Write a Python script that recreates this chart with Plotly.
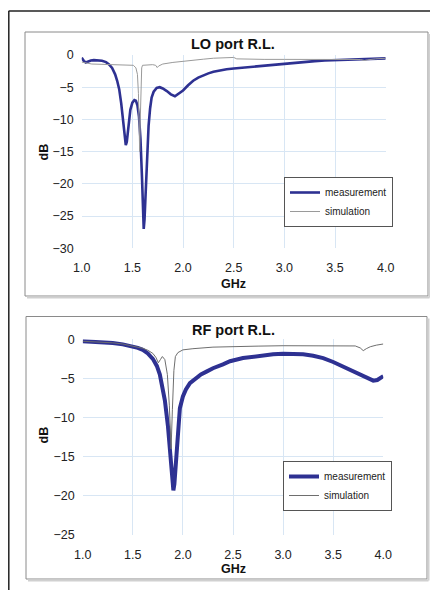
import plotly.graph_objects as go

# page: 438x590 window, body margin 8 -> figure placed at (8, 8)
OX, OY = 8, 8
W, H = 430, 582

# ---------------- data ----------------
lo_meas_x = [1.00, 1.02, 1.04, 1.06, 1.09, 1.12, 1.16, 1.20, 1.24, 1.27, 1.30, 1.33, 1.35, 1.37, 1.39,
             1.41, 1.425, 1.435, 1.445, 1.455, 1.465, 1.48, 1.50, 1.52, 1.535, 1.55, 1.565, 1.58, 1.595,
             1.607, 1.612, 1.62, 1.632, 1.645, 1.66, 1.675, 1.69, 1.71, 1.74, 1.77, 1.80, 1.84, 1.88,
             1.92, 1.96, 2.00, 2.05, 2.10, 2.15, 2.20, 2.25, 2.30, 2.35, 2.43, 2.50, 2.60, 2.70, 2.80,
             2.90, 3.00, 3.10, 3.20, 3.30, 3.40, 3.50, 3.60, 3.70, 3.80, 3.85, 3.90, 4.00]
lo_meas_y = [-0.4, -0.9, -1.15, -1.0, -0.85, -0.8, -0.8, -0.9, -1.1, -1.45, -2.0, -3.0, -4.0, -5.3, -7.5,
             -10.5, -13.0, -14.0, -13.5, -12.0, -10.3, -8.5, -7.4, -7.0, -7.1, -7.8, -9.5, -13.0, -19.0,
             -26.0, -27.0, -25.5, -21.0, -15.0, -11.0, -8.3, -6.6, -5.7, -5.1, -5.0, -5.2, -5.6, -6.1,
             -6.4, -6.0, -5.5, -4.7, -4.0, -3.5, -3.15, -2.85, -2.6, -2.42, -2.2, -2.1, -1.95, -1.8, -1.62,
             -1.45, -1.3, -1.15, -1.05, -0.95, -0.86, -0.79, -0.75, -0.71, -0.67, -0.6, -0.56, -0.52]

lo_sim_x = [1.00, 1.05, 1.10, 1.20, 1.30, 1.40, 1.48, 1.51, 1.535, 1.55, 1.56, 1.567, 1.572, 1.578,
            1.585, 1.592, 1.60, 1.65, 1.70, 1.73, 1.745, 1.76, 1.80, 1.90, 2.00, 2.10, 2.20, 2.30, 2.40,
            2.50, 2.53, 2.60, 2.80, 3.00, 3.20, 3.40, 3.60, 3.75, 3.79, 3.82, 3.90, 4.00]
lo_sim_y = [-1.1, -1.3, -1.4, -1.45, -1.5, -1.5, -1.5, -1.6, -2.0, -3.0, -6.0, -11.0, -15.0, -10.0,
            -4.0, -2.0, -1.6, -1.5, -1.5, -1.6, -1.95, -1.7, -1.4, -1.15, -0.95, -0.8, -0.65, -0.5, -0.42,
            -0.38, -0.6, -0.65, -0.68, -0.68, -0.68, -0.68, -0.7, -0.7, -0.85, -0.75, -0.6, -0.5]

rf_meas_x = [1.00, 1.10, 1.20, 1.30, 1.40, 1.50, 1.55, 1.60, 1.65, 1.70, 1.74, 1.77, 1.79, 1.82,
             1.85, 1.875, 1.895, 1.905, 1.915, 1.93, 1.95, 1.97, 2.00, 2.03, 2.07, 2.12, 2.18, 2.24,
             2.30, 2.40, 2.47, 2.60, 2.70, 2.80, 2.90, 3.00, 3.10, 3.20, 3.30, 3.40, 3.50, 3.60,
             3.70, 3.80, 3.87, 3.90, 3.94, 3.97, 4.00]
rf_meas_y = [-0.25, -0.3, -0.35, -0.47, -0.65, -0.9, -1.1, -1.35, -1.8, -2.5, -3.4, -4.5, -5.6, -7.8,
             -11.0, -15.0, -18.5, -19.3, -18.5, -15.5, -11.5, -8.8, -7.3, -6.4, -5.6, -5.1, -4.5, -4.1,
             -3.7, -3.2, -2.8, -2.4, -2.2, -2.0, -1.9, -1.84, -1.84, -1.92, -2.1, -2.4, -2.9, -3.5,
             -4.1, -4.8, -5.2, -5.28, -5.2, -5.0, -4.7]

rf_sim_x = [1.00, 1.10, 1.20, 1.30, 1.40, 1.50, 1.55, 1.60, 1.65, 1.70, 1.73, 1.755, 1.775, 1.795,
            1.82, 1.845, 1.865, 1.882, 1.895, 1.91, 1.925, 1.95, 2.00, 2.10, 2.30, 2.50, 2.75, 3.00,
            3.30, 3.60, 3.72, 3.77, 3.80, 3.83, 3.87, 3.93, 4.00]
rf_sim_y = [-0.25, -0.3, -0.35, -0.45, -0.6, -0.85, -1.0, -1.15, -1.4, -1.8, -2.3, -3.0, -2.6, -2.2,
            -2.6, -4.5, -8.5, -14.0, -9.0, -4.0, -2.2, -1.7, -1.35, -1.2, -1.0, -0.92, -0.87, -0.82,
            -0.82, -0.82, -0.85, -1.1, -1.45, -1.2, -0.95, -0.75, -0.6]

titles = ["LO port R.L.", "RF port R.L."]
series_names = ["measurement", "simulation"]
x_ticks = [1.0, 1.5, 2.0, 2.5, 3.0, 3.5, 4.0]

# ---------------- helpers (page pixels -> paper) ----------------
def px(x):
    return (x - OX) / W

def py(y):
    return 1 - (y - OY) / H

MEAS_COLOR = "#2e3192"
SIM_COLOR_TOP = "#9a9a9a"
SIM_COLOR_BOT = "#6e6e6e"
GRID = "#d8e6f4"
FONT = "Liberation Sans, Arial, sans-serif"

fig = go.Figure()

fig.add_trace(go.Scatter(x=lo_meas_x, y=lo_meas_y, mode="lines", name=series_names[0],
                         line=dict(color=MEAS_COLOR, width=2.6), xaxis="x", yaxis="y", legend="legend"))
fig.add_trace(go.Scatter(x=lo_sim_x, y=lo_sim_y, mode="lines", name=series_names[1],
                         line=dict(color=SIM_COLOR_TOP, width=1), xaxis="x", yaxis="y", legend="legend"))
fig.add_trace(go.Scatter(x=rf_meas_x, y=rf_meas_y, mode="lines", name=series_names[0],
                         line=dict(color=MEAS_COLOR, width=4), xaxis="x2", yaxis="y2", legend="legend2"))
fig.add_trace(go.Scatter(x=rf_sim_x, y=rf_sim_y, mode="lines", name=series_names[1],
                         line=dict(color=SIM_COLOR_BOT, width=1), xaxis="x2", yaxis="y2", legend="legend2"))

axis_common = dict(showgrid=True, gridcolor=GRID, gridwidth=1, zeroline=False, showline=False,
                   ticks="", automargin=False, tickfont=dict(family=FONT, size=12.5, color="#222"))

legend_common = dict(xanchor="left", yanchor="top", bgcolor="white", bordercolor="#555", borderwidth=1,
                     font=dict(family=FONT, size=10, color="#222"), itemwidth=30, tracegroupgap=0)

fig.update_layout(
    width=W, height=H,
    margin=dict(l=0, r=0, t=0, b=0),
    paper_bgcolor="white", plot_bgcolor="white",
    font=dict(family=FONT, color="#222"),
    xaxis=dict(domain=[px(81.7), px(385.7)], range=[1, 4], tickvals=x_ticks, tickformat=".1f",
               anchor="y", ticklabelstandoff=10, **axis_common),
    yaxis=dict(domain=[py(248.3), py(55)], range=[-30, 0], dtick=5, anchor="x",
               ticklabelstandoff=7, **axis_common),
    xaxis2=dict(domain=[px(82.7), px(383.3)], range=[1, 4], tickvals=x_ticks, tickformat=".1f",
                anchor="y2", ticklabelstandoff=10, **axis_common),
    yaxis2=dict(domain=[py(535), py(339.3)], range=[-25, 0], dtick=5, anchor="x2",
                ticklabelstandoff=7, **axis_common),
    legend=dict(x=px(284), y=py(177), **legend_common),
    legend2=dict(x=px(283), y=py(461), **legend_common),
    showlegend=True,
)

shapes = []
# outer frame (top and left)
shapes.append(dict(type="line", xref="paper", yref="paper", x0=px(8.6), x1=px(438), y0=py(11), y1=py(11),
                   line=dict(color="#222", width=1.5)))
shapes.append(dict(type="line", xref="paper", yref="paper", x0=px(8.8), x1=px(8.8), y0=py(11), y1=py(590),
                   line=dict(color="#222", width=1.5)))
# chart boxes with slight shadow
for (x0, y0, x1, y1) in [(25, 32, 428, 296), (26, 316.5, 427, 579)]:
    shapes.append(dict(type="line", xref="paper", yref="paper", x0=px(x1 + 1.5), x1=px(x1 + 1.5),
                       y0=py(y0 + 2), y1=py(y1 + 1.5), line=dict(color="#d0d0d0", width=2)))
    shapes.append(dict(type="line", xref="paper", yref="paper", x0=px(x0 + 2), x1=px(x1 + 1.5),
                       y0=py(y1 + 1.5), y1=py(y1 + 1.5), line=dict(color="#d0d0d0", width=2)))
    shapes.append(dict(type="rect", xref="paper", yref="paper", x0=px(x0), x1=px(x1), y0=py(y1), y1=py(y0),
                       line=dict(color="#8a8a8a", width=1), layer="below"))
fig.update_layout(shapes=shapes)

def label(text, x, y, size, angle=0):
    return dict(text=text, x=px(x), y=py(y), xref="paper", yref="paper", xanchor="center",
                yanchor="middle", showarrow=False, textangle=angle,
                font=dict(family=FONT, size=size, color="#111"))

ann = [
    label("<b>" + titles[0] + "</b>", 233.5, 43.5, 14.5),
    label("<b>" + titles[1] + "</b>", 233.5, 329.5, 14.5),
    label("<b>GHz</b>", 233.5, 283.5, 12.5),
    label("<b>GHz</b>", 233.5, 568.5, 12.5),
    label("<b>dB</b>", 43.5, 152, 12.5, -90),
    label("<b>dB</b>", 43.5, 435, 12.5, -90),
]
fig.update_layout(annotations=ann)

fig.write_html("out.html")
